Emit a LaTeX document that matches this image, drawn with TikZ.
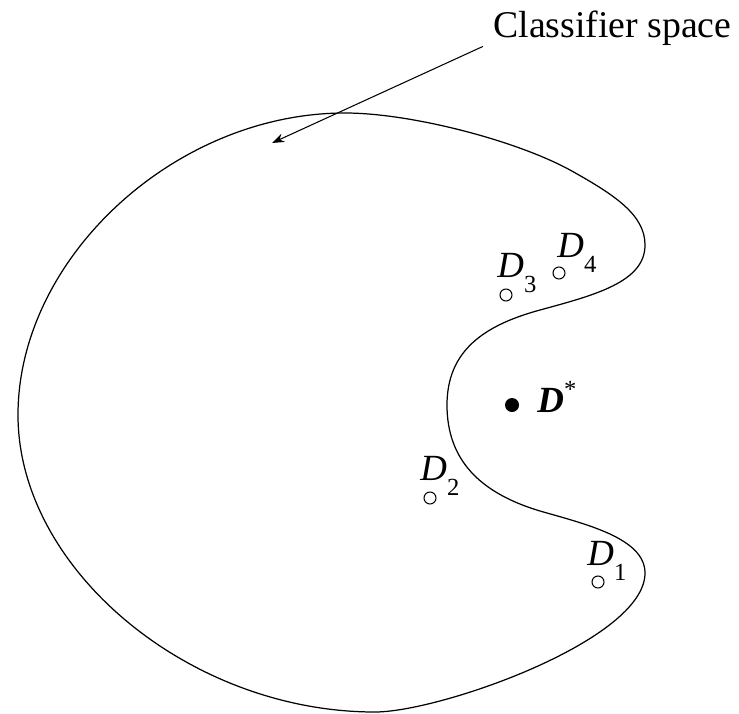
\documentclass[tikz,border=0pt]{standalone}
\usepackage{fontspec}
\setmainfont{Liberation Serif}
\usetikzlibrary{arrows.meta}
\newcommand{\dname}[1]{\textit{D}\raisebox{-9pt}{\fontsize{14}{14}\selectfont #1}}

\begin{document}
\begin{tikzpicture}[
  x=0.02cm, y=-0.02cm, >={Stealth[length=7pt,width=5pt]},
  outline/.style={line width=0.7pt},
  sample/.style={draw, circle, line width=0.6pt, minimum size=0.24cm, inner sep=0pt},
  optimum/.style={fill, circle, minimum size=0.28cm, inner sep=0pt},
  dlabel/.style={anchor=base west, inner sep=0pt, font=\fontsize{21}{25}\selectfont},
]
\useasboundingbox (0,0) rectangle (739,713);

% classifier space boundary
\draw[outline] (345,113) .. controls (175,113) and (18,258) .. (18,415)
  .. controls (18,569) and (189,712) .. (375,712)
  .. controls (440,712) and (645,640) .. (645,573)
  .. controls (645,538) and (585,524) .. (540,511)
  .. controls (480,493) and (447,460) .. (447,405)
  .. controls (447,350) and (485,325) .. (540,310)
  .. controls (595,295) and (645,282) .. (645,245)
  .. controls (645,215) and (615,195) .. (570,170)
  .. controls (515,140) and (410,113) .. cycle;

% label with arrow
\node[anchor=base west, inner sep=0pt, font=\fontsize{21.5}{26}\selectfont]
  (space) at (493,38) {Classifier space};
\coordinate (spacetip) at (272,143);
\draw[->, line width=0.6pt] ([xshift=-0.2cm]space.south west) -- (spacetip);

% classifiers
\node[sample] (d1) at (598,582) {};
\node[sample] (d2) at (430,498) {};
\node[sample] (d3) at (506,295) {};
\node[sample] (d4) at (559,273) {};
\node[optimum] (dstar) at (512,405) {};

\node[dlabel] (d1lab) at (587,565) {\dname{1}};
\node[dlabel] (d2lab) at (420,480) {\dname{2}};
\node[dlabel] (d3lab) at (497,277) {\dname{3}};
\node[dlabel] (d4lab) at (557,257) {\dname{4}};
\node[dlabel] (dstarlab) at (537,412)
  {\textbf{\textit{D}}\raisebox{8pt}{\fontsize{14}{14}\selectfont *}};

\end{tikzpicture}
\end{document}
